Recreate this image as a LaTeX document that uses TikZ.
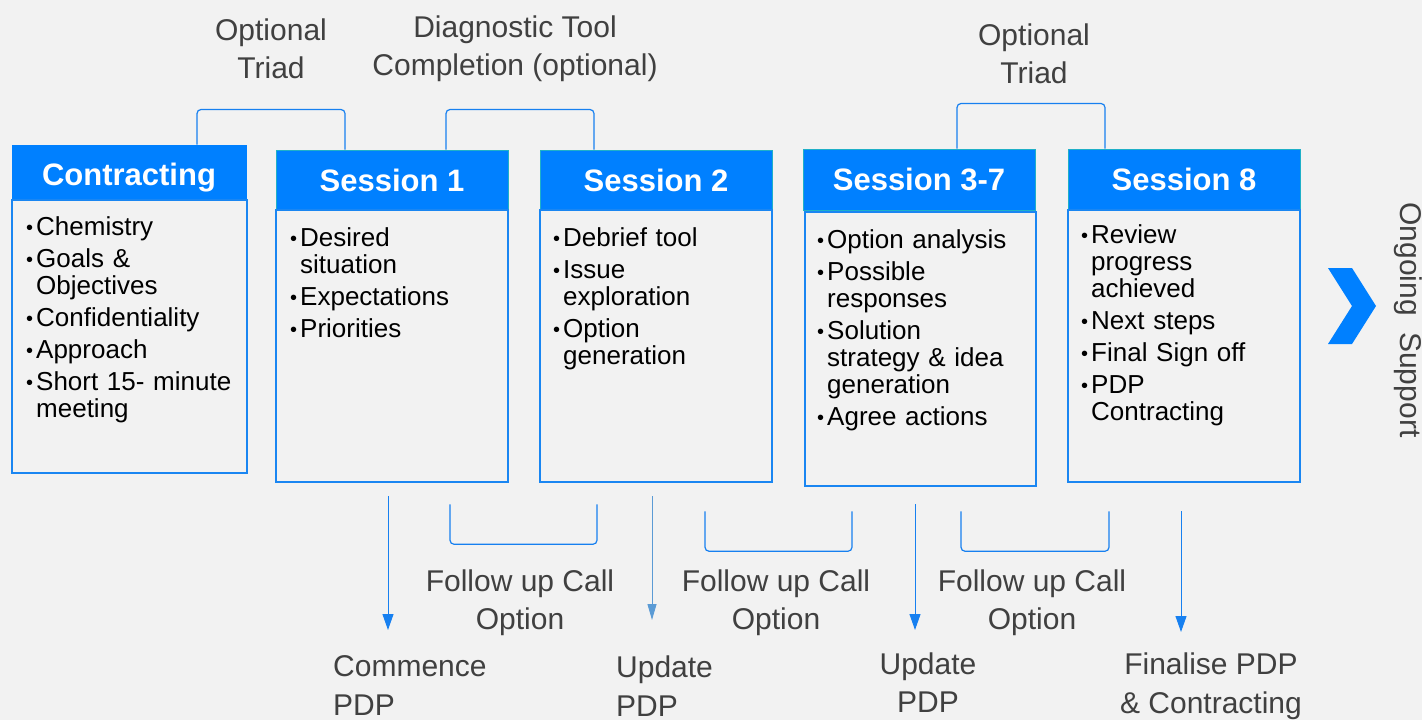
\documentclass[tikz,border=0pt]{standalone}
\usepackage{fontspec}
\setmainfont{Liberation Sans}
\usetikzlibrary{arrows.meta}

\definecolor{hdrblue}{HTML}{0080FF}
\definecolor{hdredge}{HTML}{1FB0C8}
\definecolor{boxblue}{HTML}{1A86F2}
\definecolor{linkblue}{HTML}{1780F0}
\definecolor{paleblue}{HTML}{5B9BD5}
\definecolor{txtgrey}{HTML}{404040}
\definecolor{bggrey}{HTML}{F2F2F2}

% one bullet item, wrapped lines (\newline) hang under the text
\newcommand{\bul}[1]{\par\vskip5pt\hangindent=10pt\hangafter=1\noindent\makebox[10pt][l]{\raisebox{1pt}{\fontsize{20}{20}\selectfont\textbullet}}#1\par}

\tikzset{
	hdr/.style={draw=hdredge, line width=1pt, fill=hdrblue, text=white, font=\fontsize{31}{36}\selectfont\bfseries, minimum width=232pt, minimum height=60pt, inner sep=0pt},
	body/.style={draw=boxblue, line width=2.5pt, minimum width=232pt, minimum height=272pt, inner sep=0pt},
	lst/.style={anchor=north west, text width=215pt, align=left, inner sep=0pt, font=\fontsize{26}{27}\selectfont},
	lbl/.style={text=txtgrey, align=center, inner sep=0pt, font=\fontsize{30}{38}\selectfont},
	brk/.style={draw=linkblue, line width=1.2pt, rounded corners=4pt},
	dn/.style={draw=linkblue, line width=1pt, -{Triangle[length=16pt,width=11pt]}},
}

\begin{document}
\begin{tikzpicture}[x=1pt, y=-1pt]
	\fill[bggrey] (0,0) rectangle (1422,720);
	\useasboundingbox (0,0) rectangle (1422,720);

	% session boxes
	\node[hdr, draw=hdrblue, minimum width=234pt, minimum height=55pt] (c0hdr) at (129,172.5) {\raisebox{-13pt}[0pt][0pt]{Contracting}};
	\node[body, minimum width=235pt, minimum height=273pt] (c0body) at (129.5,336.5) {};
	\node[lst] (c0list) at (26,203) {\bul{Chemistry}\bul{Goals \&\newline Objectives}\bul{Confidentiality}\bul{Approach}\bul{Short 15- minute\newline meeting}};

	\node[hdr] (s1hdr) at (392,180) {Session 1};
	\node[body] (s1body) at (392,346) {};
	\node[lst] (s1list) at (290,214) {\bul{Desired\newline situation}\bul{Expectations}\bul{Priorities}};

	\node[hdr] (s2hdr) at (656,180) {Session 2};
	\node[body] (s2body) at (656,346) {};
	\node[lst] (s2list) at (553,214) {\bul{Debrief tool}\bul{Issue\newline exploration}\bul{Option\newline generation}};

	\node[hdr, minimum height=61pt] (s3hdr) at (919,179.5) {Session 3-7};
	\node[body, minimum width=231pt, minimum height=274pt] (s3body) at (920.5,349) {};
	\node[lst] (s3list) at (817,216) {\bul{Option analysis}\bul{Possible\newline responses}\bul{Solution\newline strategy \& idea\newline generation}\bul{Agree actions}};

	\node[hdr, minimum height=61pt] (s8hdr) at (1184,179.5) {Session 8};
	\node[body] (s8body) at (1184,346) {};
	\node[lst] (s8list) at (1081,211) {\bul{Review\newline progress\newline achieved}\bul{Next steps}\bul{Final Sign off}\bul{PDP\newline Contracting}};

	% brackets above
	\draw[brk] ([xshift=68pt]c0hdr.north) -- ++(0,-35) -| ([xshift=-47pt]s1hdr.north);
	\draw[brk] ([xshift=54pt]s1hdr.north) -- ++(0,-40) -| ([xshift=-62pt]s2hdr.north);
	\draw[brk] ([xshift=38pt]s3hdr.north) -- ++(0,-45) -| ([xshift=-79pt]s8hdr.north);

	\node[lbl] (triad1) at (271,49) {Optional\\Triad};
	\node[lbl] (diag) at (515,49) {Diagnostic Tool\\Completion (optional)};
	\node[lbl] (triad2) at (1034,54) {Optional\\Triad};

	% brackets below
	\draw[brk] ([shift={(58,21)}]s1body.south) -- ++(0,40) -| ([shift={(-59,21)}]s2body.south);
	\draw[brk] ([shift={(49,28)}]s2body.south) -- ++(0,40) -| ([shift={(-68.5,24)}]s3body.south);
	\draw[brk] ([shift={(40.5,24)}]s3body.south) -- ++(0,40) -| ([shift={(-75,28)}]s8body.south);

	\node[lbl] (call1) at (520,603) {Follow up Call\\Option};
	\node[lbl] (call2) at (776,603) {Follow up Call\\Option};
	\node[lbl] (call3) at (1032,603) {Follow up Call\\Option};

	% arrows down
	\coordinate (e1) at (388,630);
	\coordinate (e2) at (652,620);
	\coordinate (e3) at (915,630);
	\coordinate (e4) at (1181,632);
	\draw[dn] ([shift={(-4,13)}]s1body.south) -- (e1);
	\draw[dn, draw=paleblue, -{Triangle[length=16pt,width=9pt]}] ([shift={(-4,13)}]s2body.south) -- (e2);
	\draw[dn] ([shift={(-5.5,17)}]s3body.south) -- (e3);
	\draw[dn] ([shift={(-3,28)}]s8body.south) -- (e4);

	\node[lbl, align=left, anchor=west, font=\fontsize{30}{39}\selectfont] (pdp1) at (333,686) {Commence\\PDP};
	\node[lbl, align=left, anchor=west, font=\fontsize{30}{39}\selectfont] (pdp2) at (616,686) {Update\\PDP};
	\node[lbl, font=\fontsize{30}{38}\selectfont] (pdp3) at (928,683) {Update\\PDP};
	\node[lbl, font=\fontsize{30}{39}\selectfont] (pdp4) at (1211,686) {Finalise PDP\\\& Contracting};

	% ongoing
	\fill[hdrblue] (1328,268) -- (1352,268) -- (1376,306) -- (1352,344) -- (1328,344) -- (1352,306) -- cycle;
	\node[lbl, rotate=-90, font=\fontsize{30}{34}\selectfont] (ongoing) at (1408,320) {Ongoing\hspace{8pt} Support};
\end{tikzpicture}
\end{document}
